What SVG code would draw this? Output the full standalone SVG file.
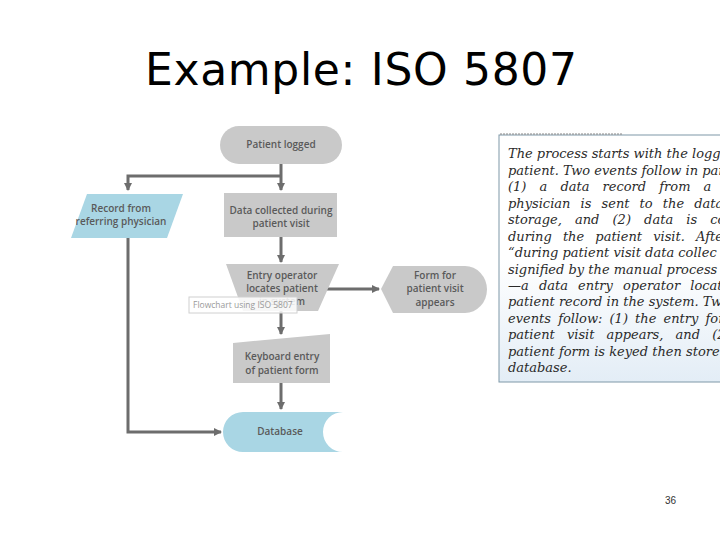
<svg xmlns="http://www.w3.org/2000/svg" width="720" height="540" viewBox="0 0 720 540">
<defs>
<marker id="ah" markerWidth="8" markerHeight="8" refX="7" refY="4" orient="auto" markerUnits="userSpaceOnUse"><path d="M0,0 L8,4 L0,8 z" fill="#6d6d6d"/></marker>
<linearGradient id="bg" x1="0" y1="0" x2="0" y2="1"><stop offset="0.5" stop-color="#ffffff"/><stop offset="1" stop-color="#e3edf6"/></linearGradient>
</defs>
<style>
.g{fill:#c9c9c9}.b{fill:#a9d6e4}
.t{font-family:"Open Sans","Noto Sans",sans-serif;font-size:10px;font-weight:600;fill:#5a5a5a;text-anchor:middle}
.c{stroke:#6d6d6d;stroke-width:3;fill:none}
.p{font-family:"DejaVu Serif",serif;font-style:italic;font-size:13px;fill:#2a2a2a}
</style>
<rect width="720" height="540" fill="#fff"/>
<text x="145" y="85" font-family="DejaVu Sans,sans-serif" font-size="44" textLength="432" fill="#000">Example: ISO 5807</text>
<g id="connectors">
<path class="c" d="M281,164 V190" marker-end="url(#ah)"/>
<path class="c" d="M281,176 H128 V190" marker-end="url(#ah)"/>
<path class="c" d="M281,237 V262" marker-end="url(#ah)"/>
<path class="c" d="M318,289 H379" marker-end="url(#ah)"/>
<path class="c" d="M281,311 V334" marker-end="url(#ah)"/>
<path class="c" d="M281,383 V409" marker-end="url(#ah)"/>
<path class="c" d="M128,238 V432 H221" marker-end="url(#ah)"/>
</g>
<g id="patient-logged"><rect class="g" x="220" y="126" width="122" height="38" rx="19"/><text class="t" x="281" y="148">Patient logged</text></g>
<g id="record"><polygon class="b" points="71,238 87,194 183,194 167,238"/><text class="t" x="121" y="212">Record from</text><text class="t" x="121" y="225">referring physician</text></g>
<g id="data-collected"><rect class="g" x="224" y="193" width="113" height="44"/><text class="t" x="281" y="214">Data collected during</text><text class="t" x="281" y="227">patient visit</text></g>
<g id="entry-operator"><polygon class="g" points="226,264 339,264 318,311 243,311"/><text class="t" x="282" y="279">Entry operator</text><text class="t" x="282" y="292">locates patient</text><text class="t" x="282" y="305">in system</text></g>
<g id="form"><path class="g" d="M381,289 L393,266 H465 A22,23.5 0 0 1 465,313 H393 Z"/><text class="t" x="435" y="279">Form for</text><text class="t" x="435" y="292">patient visit</text><text class="t" x="435" y="306">appears</text></g>
<g id="keyboard"><polygon class="g" points="233,343 330,334 330,383 233,383"/><text class="t" x="282" y="360">Keyboard entry</text><text class="t" x="282" y="374">of patient form</text></g>
<g id="database"><path class="b" d="M243,412 H343 A20,20 0 0 0 343,452 H243 A20,20 0 0 1 243,412 Z"/><text class="t" x="280" y="435">Database</text></g>
<g id="tooltip"><rect x="189" y="297" width="108" height="16" fill="#fff" fill-opacity="0.85" stroke="#d0d0d0"/><text x="193" y="308" font-family="Open Sans,sans-serif" font-size="8.5" fill="#9a9a9a">Flowchart using ISO 5807</text></g>
<g id="textbox">
<rect x="499" y="135" width="225" height="247" fill="url(#bg)" stroke="#7e98a8" stroke-width="1"/>
<line x1="500" y1="134" x2="622" y2="134" stroke="#888" stroke-dasharray="2,1"/>
<text class="p" x="508" y="158">The process starts with the logging</text>
<text class="p" x="508" y="175">patient. Two events follow in para</text>
<text class="p" x="508" y="191" word-spacing="9">(1) a data record from a ref</text>
<text class="p" x="508" y="208" word-spacing="6">physician is sent to the databa</text>
<text class="p" x="508" y="224" word-spacing="9">storage, and (2) data is co</text>
<text class="p" x="508" y="241" word-spacing="7">during the patient visit. Afte</text>
<text class="p" x="508" y="257">“during patient visit data collec</text>
<text class="p" x="508" y="274">signified by the manual process s</text>
<text class="p" x="508" y="290" word-spacing="6">—a data entry operator locat</text>
<text class="p" x="508" y="306">patient record in the system. Two</text>
<text class="p" x="508" y="323" word-spacing="3">events follow: (1) the entry for</text>
<text class="p" x="508" y="339" word-spacing="8">patient visit appears, and (2</text>
<text class="p" x="508" y="356">patient form is keyed then store</text>
<text class="p" x="508" y="372">database.</text>
</g>
<text x="665" y="504" font-family="Liberation Sans,sans-serif" font-size="10" fill="#333">36</text>
</svg>
